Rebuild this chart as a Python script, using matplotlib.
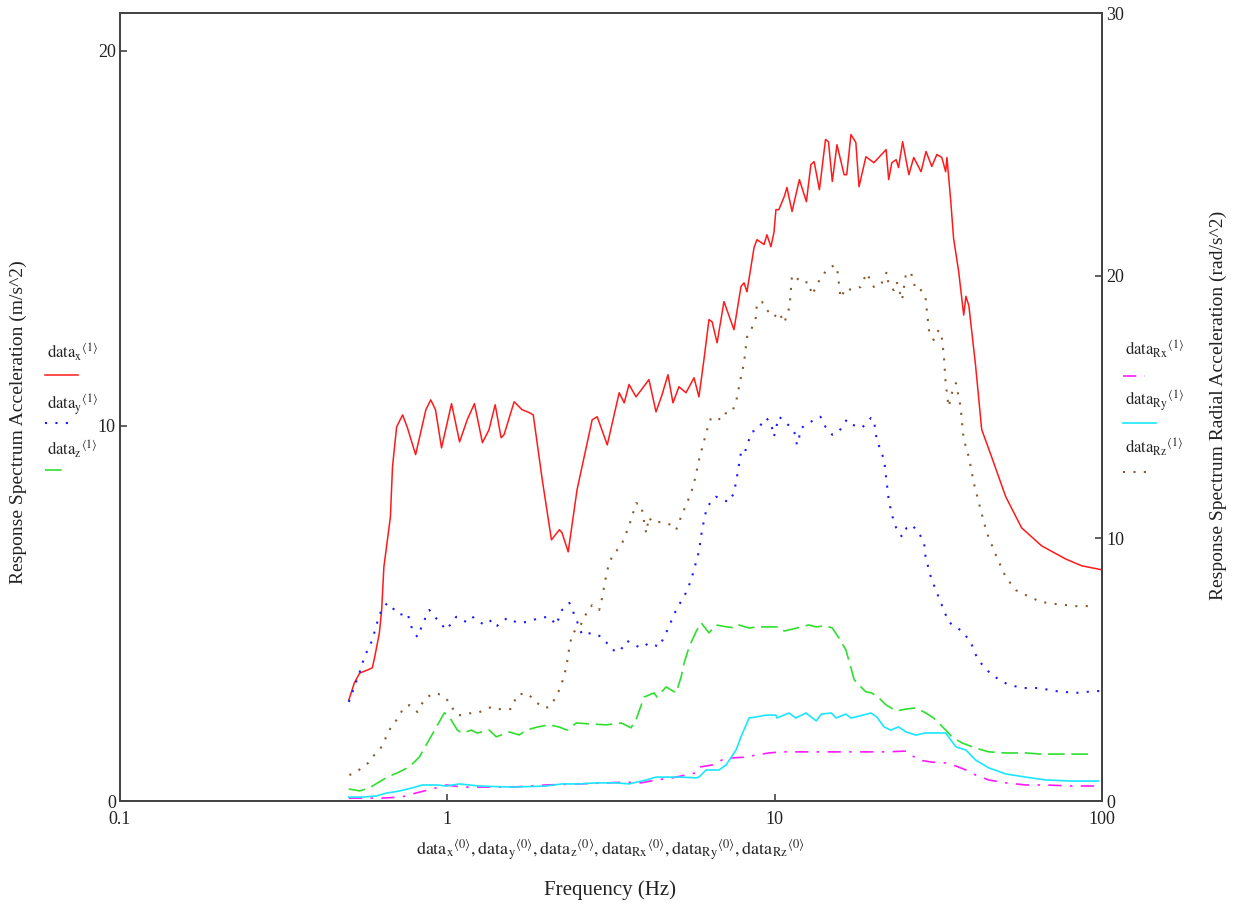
import numpy as np
import matplotlib.pyplot as plt
from matplotlib.lines import Line2D
from matplotlib.ticker import NullLocator

plt.rcParams['font.family'] = ['Liberation Serif', 'DejaVu Serif']
plt.rcParams['mathtext.fontset'] = 'stix'

# data_x  (left axis, m/s^2)
freq_x = [0.50, 0.52, 0.54, 0.57, 0.59, 0.60, 0.62, 0.63, 0.64, 0.67,
          0.68, 0.70, 0.73, 0.755, 0.80, 0.86, 0.89, 0.92, 0.96, 1.03,
          1.09, 1.15, 1.21, 1.28, 1.34, 1.40, 1.46, 1.49, 1.60, 1.69,
          1.78, 1.83, 1.95, 2.08, 2.20, 2.24, 2.34, 2.49, 2.77, 2.87,
          3.08, 3.35, 3.47, 3.59, 3.77, 4.13, 4.34, 4.53, 4.72, 4.89,
          5.10, 5.36, 5.67, 5.87, 6.08, 6.30, 6.44, 6.67, 7.00, 7.51,
          7.89, 8.06, 8.23, 8.65, 8.83, 9.28, 9.47, 9.74, 9.95, 10.09,
          10.3, 10.7, 10.9, 11.3, 11.9, 12.5, 12.9, 13.2, 13.7, 14.3,
          14.6, 15.0, 15.5, 16.3, 16.6, 17.1, 17.7, 18.1, 19.0, 20.1,
          21.9, 22.3, 22.8, 23.5, 23.9, 24.6, 25.7, 26.6, 28.0, 29.0,
          30.2, 31.3, 32.4, 33.3, 33.6, 34.5, 35.2, 36.5, 37.8, 38.4,
          39.2, 41.1, 42.9, 46.0, 50.8, 56.8, 65.4, 77.4, 86.6, 100]
acc_x = [2.69, 3.15, 3.41, 3.49, 3.55, 3.84, 4.48, 5.09, 6.24, 7.57,
         8.91, 9.97, 10.29, 9.95, 9.23, 10.43, 10.69, 10.43, 9.41, 10.59,
         9.57, 10.16, 10.59, 9.55, 9.89, 10.56, 9.68, 9.76, 10.64, 10.43,
         10.35, 10.29, 8.56, 6.96, 7.23, 7.15, 6.64, 8.29, 10.16, 10.24,
         9.49, 10.88, 10.61, 11.1, 10.77, 11.23, 10.37, 10.83, 11.36, 10.61,
         11.04, 10.88, 11.28, 10.77, 11.76, 12.83, 12.77, 12.21, 13.31, 12.56,
         13.71, 13.81, 13.57, 14.75, 14.96, 14.83, 15.09, 14.77, 15.15, 15.76,
         15.76, 16.11, 16.35, 15.71, 16.56, 15.97, 16.96, 17.04, 16.29, 17.63,
         17.57, 16.51, 17.49, 16.69, 16.69, 17.76, 17.55, 16.37, 17.17, 17.01,
         17.36, 16.56, 17.01, 17.09, 16.88, 17.57, 16.69, 17.15, 16.77, 17.31,
         16.91, 17.23, 17.15, 16.77, 17.15, 16.0, 15.0, 14.1, 12.95, 13.45,
         13.2, 11.6, 9.9, 9.17, 8.11, 7.28, 6.8, 6.45, 6.27, 6.16]

# data_y
freq_y = [0.50, 0.52, 0.54, 0.558, 0.59, 0.607, 0.629, 0.656, 0.714, 0.755,
          0.782, 0.81, 0.86, 0.881, 0.932, 0.993, 1.065, 1.143, 1.192, 1.297,
          1.372, 1.42, 1.524, 1.635, 1.754, 1.91, 2.05, 2.15, 2.24, 2.36,
          2.48, 2.58, 2.77, 2.97, 3.19, 3.35, 3.54, 3.72, 3.91, 4.13,
          4.44, 4.66, 5.00, 5.40, 5.59, 5.87, 6.00, 6.21, 6.62, 6.90,
          7.25, 7.51, 7.67, 7.89, 8.06, 8.35, 8.53, 8.83, 9.41, 9.74,
          9.95, 10.3, 10.8, 11.5, 11.7, 12.1, 12.5, 13.2, 13.8, 14.3,
          15.0, 15.7, 16.6, 17.2, 18.5, 19.7, 20.1, 20.5, 21.6, 22.0,
          22.3, 22.8, 23.6, 24.5, 25.3, 26.2, 27.5, 28.6, 28.9, 30.0,
          31.3, 34.0, 37.3, 39.7, 41.4, 42.9, 46.0, 51.2, 56.8, 64.1,
          72.2, 83.0, 95.6, 100]
acc_y = [2.64, 3.04, 3.44, 3.84, 4.29, 4.69, 5.09, 5.28, 4.96, 5.01,
         4.56, 4.37, 4.91, 5.09, 4.83, 4.56, 4.91, 4.77, 4.91, 4.69,
         4.83, 4.67, 4.88, 4.75, 4.77, 4.88, 4.91, 4.69, 5.09, 5.28,
         4.83, 4.43, 4.48, 4.37, 4.03, 3.97, 4.27, 4.16, 4.08, 4.21,
         4.11, 4.48, 5.09, 5.6, 5.97, 6.65, 7.23, 7.84, 8.11, 8.03,
         7.97, 8.21, 8.64, 9.28, 9.23, 9.63, 9.84, 9.89, 10.21, 10.08,
         9.71, 10.24, 10.11, 9.81, 9.49, 9.95, 10.03, 10.16, 10.24, 9.97,
         9.76, 9.84, 10.16, 10.03, 9.95, 10.21, 10.16, 9.63, 9.09, 8.48,
         8.03, 7.63, 7.23, 7.04, 7.28, 7.36, 7.17, 6.88, 6.51, 5.97,
         5.55, 4.77, 4.53, 4.24, 3.84, 3.65, 3.36, 3.12, 3.01, 3.01,
         2.93, 2.88, 2.93, 2.93]

# data_z
freq_z = [0.50, 0.54, 0.578, 0.62, 0.656, 0.704, 0.766, 0.821, 0.869, 0.926,
          0.979, 1.014, 1.073, 1.111, 1.184, 1.234, 1.343, 1.411, 1.546, 1.659,
          1.742, 1.882, 2.05, 2.20, 2.32, 2.48, 2.77, 3.06, 3.40, 3.64,
          3.77, 3.99, 4.28, 4.37, 4.66, 5.00, 5.18, 5.29, 5.48, 5.75,
          5.96, 6.30, 6.62, 7.15, 7.62, 7.78, 8.35, 8.83, 9.41, 10.3,
          10.7, 11.7, 12.7, 13.4, 14.3, 15.0, 15.7, 16.5, 17.1, 17.5,
          18.1, 19.0, 19.8, 20.8, 21.9, 23.5, 25.2, 27.0, 28.9, 30.6,
          31.7, 33.3, 34.8, 37.3, 41.1, 45.1, 50.8, 58.5, 65.4, 77.4,
          92.3]
acc_z = [0.32, 0.27, 0.35, 0.51, 0.64, 0.75, 0.91, 1.17, 1.55, 1.97,
         2.35, 2.24, 1.89, 1.81, 1.89, 1.81, 1.89, 1.71, 1.84, 1.76,
         1.89, 1.97, 2.03, 1.97, 1.89, 2.08, 2.05, 2.03, 2.08, 1.95,
         2.16, 2.77, 2.88, 2.77, 3.04, 2.88, 3.31, 3.68, 4.11, 4.51,
         4.75, 4.48, 4.69, 4.64, 4.61, 4.69, 4.61, 4.64, 4.64, 4.64,
         4.53, 4.61, 4.69, 4.64, 4.67, 4.61, 4.35, 4.03, 3.55, 3.23,
         3.09, 2.91, 2.88, 2.75, 2.56, 2.40, 2.45, 2.48, 2.35, 2.21,
         2.08, 1.89, 1.71, 1.55, 1.41, 1.31, 1.28, 1.28, 1.25, 1.25,
         1.25]

# data_Rx  (right axis, rad/s^2)
freq_rx = [0.50, 0.55, 0.63, 0.724, 0.80, 0.90, 0.993, 1.111, 1.252, 1.58,
           2.0, 2.53, 3.06, 3.52, 3.91, 4.34, 4.86, 5.75, 5.87, 6.44,
           7.10, 7.41, 8.17, 8.77, 9.61, 10.5, 11.9, 13.4, 15.0, 16.9,
           19.0, 21.9, 25.2, 26.2, 27.5, 30.2, 33.3, 35.8, 38.4, 41.1,
           45.1, 50.8, 58.5, 67.3, 80.8, 97.6]
acc_rx = [0.11, 0.11, 0.11, 0.15, 0.30, 0.46, 0.61, 0.53, 0.53, 0.53,
          0.61, 0.65, 0.69, 0.72, 0.69, 0.80, 0.88, 1.07, 1.29, 1.37,
          1.64, 1.64, 1.67, 1.75, 1.83, 1.87, 1.87, 1.87, 1.87, 1.87,
          1.87, 1.87, 1.90, 1.75, 1.56, 1.48, 1.45, 1.33, 1.18, 0.99,
          0.80, 0.69, 0.61, 0.61, 0.57, 0.57]

# data_Ry
freq_ry = [0.50, 0.55, 0.607, 0.651, 0.714, 0.782, 0.839, 0.926, 0.993, 1.087,
           1.252, 1.58, 2.0, 2.24, 2.53, 2.85, 3.28, 3.59, 4.05, 4.34,
           4.86, 5.21, 5.75, 5.87, 6.17, 6.76, 7.10, 7.62, 7.89, 8.35,
           8.77, 9.41, 10.09, 10.16, 11.06, 11.6, 12.46, 13.4, 13.9, 14.9,
           15.4, 16.5, 17.1, 17.7, 19.7, 20.5, 21.6, 22.6, 23.9, 25.2,
           27.0, 28.9, 30.2, 33.3, 35.8, 38.4, 41.1, 45.1, 50.8, 58.5,
           67.3, 80.8, 97.6]
acc_ry = [0.15, 0.15, 0.19, 0.30, 0.38, 0.50, 0.61, 0.61, 0.57, 0.65,
          0.57, 0.53, 0.57, 0.65, 0.65, 0.69, 0.69, 0.65, 0.80, 0.91,
          0.91, 0.91, 0.88, 0.91, 1.18, 1.18, 1.37, 1.94, 2.44, 3.16,
          3.20, 3.27, 3.27, 3.16, 3.35, 3.16, 3.35, 3.05, 3.31, 3.35,
          3.16, 3.31, 3.16, 3.20, 3.35, 3.20, 2.82, 2.70, 2.82, 2.63,
          2.51, 2.59, 2.59, 2.59, 2.06, 1.94, 1.56, 1.26, 1.03, 0.91,
          0.80, 0.76, 0.76]

# data_Rz
freq_rz = [0.502, 0.528, 0.550, 0.578, 0.598, 0.62, 0.64, 0.656, 0.675, 0.699,
           0.739, 0.766, 0.810, 0.839, 0.869, 0.913, 0.96, 1.0, 1.036, 1.073,
           1.111, 1.184, 1.234, 1.297, 1.362, 1.42, 1.49, 1.568, 1.60, 1.635,
           1.742, 1.804, 1.882, 1.977, 2.05, 2.15, 2.23, 2.31, 2.36, 2.41,
           2.53, 2.67, 2.77, 2.91, 2.95, 3.06, 3.12, 3.23,
           3.35, 3.42, 3.52, 3.64, 3.77, 3.91, 4.05, 4.13, 4.22, 4.53,
           4.83, 5.00, 5.10, 5.36, 5.55, 5.67, 5.87, 6.21, 6.39, 6.62,
           6.86, 7.10, 7.41, 7.62, 7.89, 8.06, 8.23, 8.47, 8.77, 8.83,
           9.15, 9.47, 9.95, 10.3, 10.7, 11.1, 11.3, 11.6, 12.1, 12.7,
           13.0, 13.7, 14.4, 15.2, 15.5, 15.9, 16.5, 17.2, 18.3, 19.1,
           20.1, 21.1, 22.0, 22.3, 23.1, 23.6, 24.5, 25.2, 26.1, 27.0,
           28.0, 28.9, 29.6, 30.6, 31.7, 32.4, 32.9, 33.3, 34.0, 34.8,
           35.8, 37.0, 37.3, 37.8, 39.2, 40.6, 42.6, 44.4, 47.4, 50.8,
           54.5, 58.5, 65.0, 72.2, 83.0, 95.6]
acc_rz = [0.99, 1.10, 1.29, 1.48, 1.75, 1.94, 2.21, 2.59, 2.82, 3.08,
          3.58, 3.65, 3.39, 3.73, 3.96, 4.11, 4.04, 3.84, 3.54, 3.27,
          3.27, 3.35, 3.35, 3.46, 3.58, 3.50, 3.50, 3.50, 3.77, 4.04,
          4.11, 3.96, 3.73, 3.54, 3.58, 3.96, 4.42, 5.10, 5.86, 6.40,
          6.59, 7.19, 7.46, 7.27, 7.54, 8.60, 9.06, 9.44,
          9.63, 9.82, 10.20, 10.70, 11.34, 11.27, 10.20, 10.81, 10.62, 10.62,
          10.51, 10.32, 10.62, 11.27, 11.72, 12.10, 12.98, 14.12, 14.58, 14.62,
          14.50, 14.77, 14.81, 15.19, 16.14, 16.67, 17.66, 17.93, 18.42, 18.96,
          19.00, 18.69, 18.42, 18.61, 18.20, 18.80, 20.02, 19.95, 19.72, 19.76,
          19.26, 19.83, 20.21, 20.40, 20.33, 19.15, 19.53, 19.45, 19.57, 20.10,
          19.57, 19.64, 20.14, 19.64, 19.45, 19.76, 19.07, 20.10, 20.10, 19.45,
          19.45, 19.15, 17.93, 17.55, 17.93, 17.66, 16.90, 15.91, 15.00, 15.53,
          15.91, 15.00, 14.47, 13.78, 13.09, 12.10, 11.08, 10.24, 9.36, 8.53,
          8.03, 7.84, 7.58, 7.50, 7.42, 7.42]

W, H = 1237, 909
fig = plt.figure(figsize=(W / 100, H / 100), dpi=100)
ax = fig.add_axes([120 / W, 108 / H, 982 / W, 788 / H])
ax2 = ax.twinx()

dots = (0, (1, 4))
ax.plot(freq_x, acc_x, color='#ff1a1a', lw=1.1)
ax.plot(freq_y, acc_y, color='#1a1aff', lw=1.5, ls=dots)
ax.plot(freq_z, acc_z, color='#2ee02e', lw=1.2, ls=(0, (10, 4)))
ax2.plot(freq_rx, acc_rx, color='#ff1aff', lw=1.2, ls=(0, (8, 5, 1.5, 5)))
ax2.plot(freq_ry, acc_ry, color='#1ae6ff', lw=1.2)
ax2.plot(freq_rz, acc_rz, color='#8b5a2b', lw=1.5, ls=dots)

ax.set_xscale('log')
ax.set_xlim(0.1, 100)
ax.set_ylim(0, 21)
ax2.set_ylim(0, 30)
ax.set_xticks([0.1, 1, 10, 100])
ax.set_xticklabels(['0.1', '1', '10', '100'])
ax.xaxis.set_minor_locator(NullLocator())
ax.set_yticks([0, 10, 20])
ax2.set_yticks([0, 10, 20, 30])

for a in (ax, ax2):
    a.tick_params(direction='in', length=5, width=1.2, color='#444444',
                  labelsize=13, labelcolor='#222222', pad=3)
    for s in a.spines.values():
        s.set_color('#444444')
        s.set_linewidth(1.3)
ax.tick_params(axis='x', pad=7)

# axis titles
fig.text(18 / W, 1 - 422 / H, 'Response Spectrum Acceleration (m/s^2)',
         rotation=90, ha='center', va='center', fontsize=14, color='#222222')
fig.text(1218 / W, 1 - 405 / H, 'Response Spectrum Radial Acceleration (rad/s^2)',
         rotation=90, ha='center', va='center', fontsize=14, color='#222222')
xnames = ['x', 'y', 'z', 'Rx', 'Ry', 'Rz']
xlab = ', '.join(r'\mathrm{data}_{\mathrm{%s}}{}^{\langle 0\rangle}' % n for n in xnames)
fig.text(610 / W, 1 - 850 / H, '$' + xlab + '$', ha='center', va='center',
         fontsize=13, color='#222222')
fig.text(610 / W, 1 - 890 / H, 'Frequency (Hz)', ha='center', va='center',
         fontsize=15, color='#222222')


# legend entries (Mathcad style)
def entry(x, ybase, yline, x2, name, **kw):
    fig.text(x / W, 1 - ybase / H,
             r'$\mathrm{data}_{\mathrm{%s}}{}^{\langle 1\rangle}$' % name,
             ha='left', va='baseline', fontsize=12, color='#222222')
    fig.add_artist(Line2D([(x - 2) / W, x2 / W], [1 - yline / H] * 2,
                          transform=fig.transFigure, **kw))


entry(47, 358, 375, 78, 'x', color='#ff1a1a', lw=1.1)
entry(47, 409, 423, 72, 'y', color='#1a1aff', lw=1.5, ls=dots)
entry(47, 455, 470, 68, 'z', color='#2ee02e', lw=1.2, ls=(0, (10, 4)))
entry(1125, 355, 376, 1145, 'Rx', color='#ff1aff', lw=1.2, ls=(0, (8, 5, 1.5, 5)))
entry(1125, 405, 423, 1156, 'Ry', color='#1ae6ff', lw=1.2)
entry(1125, 453, 472, 1150, 'Rz', color='#8b5a2b', lw=1.5, ls=dots)

fig.savefig('out.png', dpi=100)
